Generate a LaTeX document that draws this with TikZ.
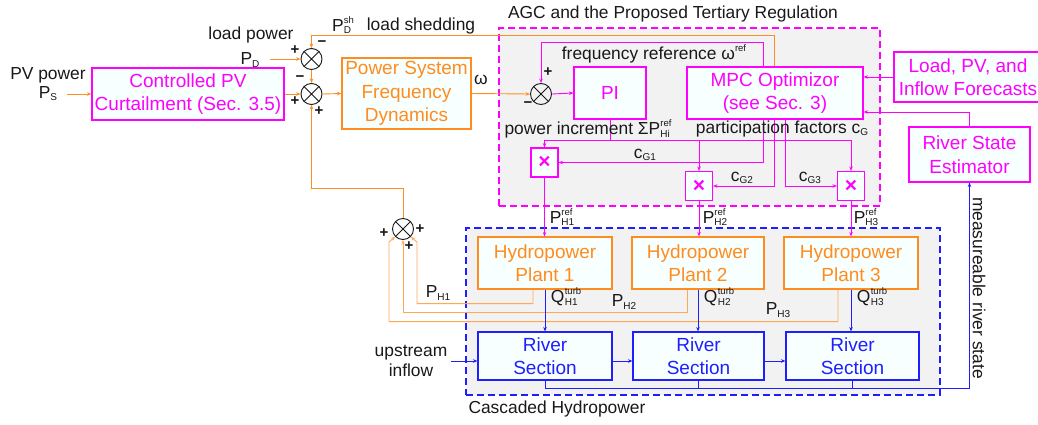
\documentclass[tikz,border=0pt]{standalone}
\usepackage{fontspec}
\setmainfont{Liberation Sans}
\usetikzlibrary{arrows.meta,calc}
\definecolor{myor}{RGB}{255,140,30}
\definecolor{mymag}{RGB}{255,0,255}
\definecolor{myblue}{RGB}{30,30,255}
\definecolor{boxfill}{RGB}{248,255,255}
\definecolor{grpfill}{RGB}{242,242,242}
\definecolor{txt}{RGB}{25,25,25}
\newcommand\lbfont{\fontsize{17.4}{20}\selectfont}
\newcommand\bxfont{\fontsize{19}{23.5}\selectfont}
\newcommand\mysmf{\fontsize{10}{10}\selectfont}
\newcommand\mysub[1]{\raisebox{-2.5pt}{\mysmf #1}}
\newcommand\mysps[3]{#1\setbox0\hbox{\mysmf #2}\setbox2\hbox{\fontsize{9.5}{9.5}\selectfont #3}\rlap{\raisebox{8pt}{\copy2}}\raisebox{-2.5pt}{\copy0}\ifdim\wd2>\wd0 \kern\dimexpr\wd2-\wd0\relax\fi}
\begin{document}
\begin{tikzpicture}[x=1pt,y=-1pt,
  box/.style={draw,line width=1.1pt,fill=boxfill,inner sep=0pt,align=center,font=\bxfont},
  grp/.style={draw,dash pattern=on 7pt off 4pt,line width=1.1pt,fill=grpfill,inner sep=0pt},
  sumn/.style={draw=txt,circle,minimum size=21pt,inner sep=0pt,line width=0.9pt},
  lab/.style={font=\lbfont,text=txt,inner sep=0pt,align=center},
  sgn/.style={font=\bfseries\fontsize{15}{15}\selectfont,text=txt,inner sep=0pt},
  conn/.style={line width=0.9pt,-{Stealth[length=4.5pt,width=3.5pt]}},
  plain/.style={line width=0.9pt},
  mult/.style={box,draw=mymag,text=mymag,minimum width=27pt,minimum height=29pt,font=\bfseries\fontsize{21}{21}\selectfont}
]
\fill[white] (0,0) rectangle (1038,425);
\useasboundingbox (0,0) rectangle (1038,425);

% groups
\node[grp,draw=mymag,minimum width=381pt,minimum height=178pt] (agc) at (689.5,117) {};
\node[grp,draw=myblue,minimum width=474pt,minimum height=167pt] (casc) at (703,311.5) {};
\node[lab] (agcl) at (673,14) {AGC and the Proposed Tertiary Regulation};
\node[lab] (cascl) at (557,409) {Cascaded Hydropower};

% boxes
\node[box,draw=mymag,text=mymag,minimum width=192pt,minimum height=52pt] (pv) at (188,94) {Controlled PV\\Curtailment (Sec. 3.5)};
\node[box,draw=myor,text=myor,minimum width=129pt,minimum height=71pt] (psys) at (406.5,93.5) {Power System\\Frequency\\Dynamics};
\node[box,draw=mymag,text=mymag,minimum width=72pt,minimum height=52pt] (pi) at (610,93) {PI};
\node[box,draw=mymag,text=mymag,minimum width=176pt,minimum height=52pt] (mpc) at (775,93) {MPC Optimizor\\(see Sec. 3)};
\node[box,draw=mymag,text=mymag,minimum width=148pt,minimum height=50pt] (fc) at (968,77) {Load, PV, and\\Inflow Forecasts};
\node[box,draw=mymag,text=mymag,minimum width=121pt,minimum height=55pt] (rse) at (969.5,154.5) {River State\\Estimator};
\node[mult] (m1) at (544.5,162.5) {×};
\node[mult] (m2) at (699,186) {×};
\node[mult] (m3) at (851,186) {×};
\node[box,draw=myor,text=myor,minimum width=134pt,minimum height=52pt] (h1) at (545,263) {Hydropower\\Plant 1};
\node[box,draw=myor,text=myor,minimum width=132pt,minimum height=52pt] (h2) at (698,263) {Hydropower\\Plant 2};
\node[box,draw=myor,text=myor,minimum width=134pt,minimum height=52pt] (h3) at (851,263) {Hydropower\\Plant 3};
\node[box,draw=myblue,text=myblue,minimum width=134pt,minimum height=48pt] (r1) at (545,356) {River\\Section};
\node[box,draw=myblue,text=myblue,minimum width=131pt,minimum height=48pt] (r2) at (698.5,356) {River\\Section};
\node[box,draw=myblue,text=myblue,minimum width=133pt,minimum height=48pt] (r3) at (852.5,356) {River\\Section};

% sums
\node[sumn] (s1) at (311.5,59) {};
\node[sumn] (s2) at (311.5,94) {};
\node[sumn] (s3) at (541,94) {};
\node[sumn] (s4) at (403,229) {};
\foreach \s in {s1,s2,s3,s4} {\draw[txt,line width=0.9pt] (\s.north west) -- (\s.south east) (\s.north east) -- (\s.south west);}

% orange connectors
\coordinate (psin) at (67,94);
\coordinate (pdin) at (270,59);
\draw[conn,myor] (psin) -- (pv.west);
\draw[conn,myor] (pv.east) -- (s2.west);
\draw[conn,myor] (pdin) -- (s1.west);
\draw[conn,myor] (s1.south) -- (s2.north);
\draw[conn,myor] (s2.east) -- (psys.west);
\draw[conn,myor] (psys.east) -- (s3.west);
\draw[conn,myor] ($(mpc.north)+(-1,0)$) -- ++(0,-31) -| (s1.north);
\draw[conn,myor] (s4.north) -- ++(0,-30) -| (s2.south);
\draw[conn,myor!75] ($(h1.south)+(-12,0)$) -- ++(0,14) -| ($(s4)+(14,13)$) -- (s4.-45);
\draw[conn,myor!75] ($(h2.south)+(-11,0)$) -- ++(0,23) -| (s4.south);
\draw[conn,myor!75] ($(h3.south)+(-13,0)$) -- ++(0,32) -| ($(s4)+(-14,13)$) -- (s4.-135);

% magenta connectors
\draw[conn,mymag] (s3.east) -- (pi.west);
\draw[conn,mymag] ($(mpc.north)+(-12,0)$) -- ++(0,-24) -| (s3.north);
\draw[plain,mymag] (pi.south) -- ++(0,21) coordinate (pb);
\draw[conn,mymag] (pb) -| (m1.north);
\draw[conn,mymag] (pb) -| (m3.north);
\draw[conn,mymag] (m2.north |- pb) -- (m2.north);
\draw[conn,mymag] ($(mpc.south)+(-12,0)$) |- (m1.east);
\draw[conn,mymag] ($(mpc.south)+(-1,0)$) |- (m2.east);
\draw[conn,mymag] ($(mpc.south)+(10,0)$) |- (m3.west);
\draw[conn,mymag] (fc.west) -- (mpc.east |- fc.west);
\draw[conn,mymag] (rse.north) |- ($(mpc.east)+(0,19)$);
\draw[conn,mymag] (m1.south) -- (m1.south |- h1.north);
\draw[conn,mymag] (m2.south) -- (m2.south |- h2.north);
\draw[conn,mymag] (m3.south) -- (m3.south |- h3.north);

% blue connectors
\draw[conn,myblue] (h1.south) -- (h1.south |- r1.north);
\draw[conn,myblue] (h2.south) -- (h2.south |- r2.north);
\draw[conn,myblue] (h3.south) -- (h3.south |- r3.north);
\coordinate (upin) at (451,361);
\draw[conn,myblue] (upin) -- (r1.west |- upin);
\draw[conn,myblue] ($(r1.east)+(0,5)$) -- ($(r2.west)+(0,5)$);
\draw[conn,myblue] ($(r2.east)+(0,5)$) -- ($(r3.west)+(0,5)$);
\draw[conn,myblue] (r1.south) -- ++(0,8) -| (rse.south);
\draw[plain,myblue] (r2.south) -- ++(0,8);
\draw[plain,myblue] (r3.south) -- ++(0,8);

% labels
\node[lab] (pvl) at (48,84) {PV power\\[-1pt]P\mysub{S}};
\node[lab] (ldl) at (251,35) {load power};
\node[lab] (pdl) at (250,60) {P\mysub{D}};
\node[lab] (pdsh) at (343,25) {\mysps{P}{D}{sh}};
\node[lab] (lsh) at (421,26) {load shedding};
\node[lab] (oml) at (481,80) {ω};
\node[lab] (frl) at (654,54) {frequency reference ω\raisebox{8pt}{\fontsize{9.5}{9.5}\selectfont ref}};
\node[lab] (pil) at (588,129) {power increment ΣP\mysps{}{Hi}{ref}};
\node[lab] (pfl) at (782,129) {participation factors c\mysub{G}};
\node[lab] (cg1) at (645,155) {c\mysub{G1}};
\node[lab] (cg2) at (742,178) {c\mysub{G2}};
\node[lab] (cg3) at (810,178) {c\mysub{G3}};
\node[lab] (pr1) at (562,217) {\mysps{P}{H1}{ref}};
\node[lab] (pr2) at (715,217) {\mysps{P}{H2}{ref}};
\node[lab] (pr3) at (866,217) {\mysps{P}{H3}{ref}};
\node[lab] (q1) at (566,297) {\mysps{Q\kern0.5pt}{H1}{turb}};
\node[lab] (q2) at (719,297) {\mysps{Q\kern0.5pt}{H2}{turb}};
\node[lab] (q3) at (872,297) {\mysps{Q\kern0.5pt}{H3}{turb}};
\node[lab] (ph1) at (438,293) {P\mysub{H1}};
\node[lab] (ph2) at (624,302) {P\mysub{H2}};
\node[lab] (ph3) at (778,310) {P\mysub{H3}};
\node[lab] (upl) at (411,361) {upstream\\inflow};
\node[lab,rotate=-90] (msl) at (979,288) {measureable river state};

% signs
\node[sgn] (g1) at (295,50) {+};
\node[sgn] (g2) at (322,44) {−};
\node[sgn] (g3) at (300,79) {−};
\node[sgn] (g4) at (295,101) {+};
\node[sgn] (g5) at (319,111) {+};
\node[sgn] (g6) at (548,72) {+};
\node[sgn] (g7) at (528,105) {−};
\node[sgn] (g8) at (384,233) {+};
\node[sgn] (g9) at (420,229) {+};
\node[sgn] (g10) at (409,246) {+};
\end{tikzpicture}
\end{document}
